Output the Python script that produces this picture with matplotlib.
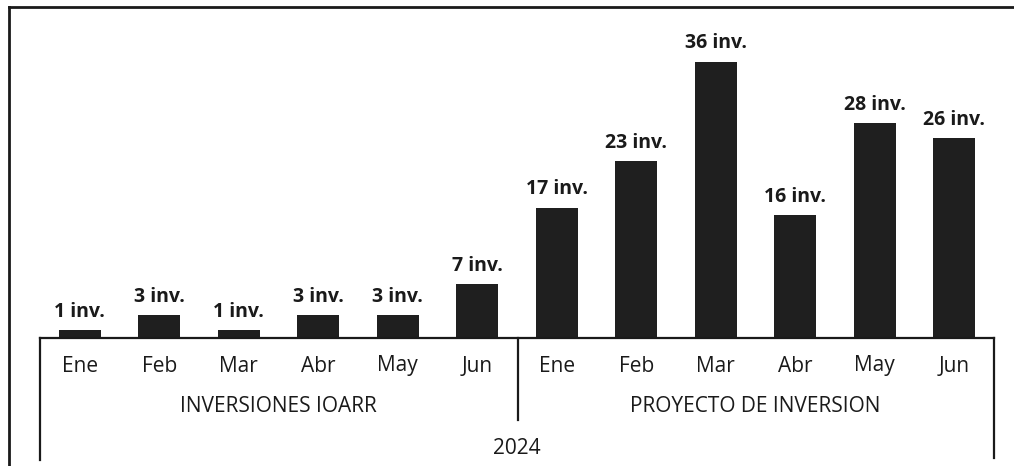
import matplotlib
matplotlib.use("Agg")
import matplotlib.pyplot as plt
from matplotlib.lines import Line2D

MONTHS = ["Ene", "Feb", "Mar", "Abr", "May", "Jun"]
GROUPS = ["INVERSIONES IOARR", "PROYECTO DE INVERSION"]
YEAR = "2024"
IOARR_VALUES = [1, 3, 1, 3, 3, 7]
PROYECTO_VALUES = [17, 23, 36, 16, 28, 26]

W, H = 1014, 466
plt.rcParams["font.family"] = ["Open Sans", "DejaVu Sans"]

fig = plt.figure(figsize=(W / 100, H / 100), dpi=100)
fig.patch.set_facecolor("white")


def px(x, y):
    return x / W, 1 - y / H


x0, x1, base_y, top_y = 40, 994, 338, 8
l, b = px(x0, base_y)
r, t = px(x1, top_y)
ax = fig.add_axes([l, b, r - l, t - b])

values = IOARR_VALUES + PROYECTO_VALUES
labels = MONTHS + MONTHS
xs = list(range(len(values)))
ax.bar(xs, values, width=0.53, color="#1f1f1f")
ax.set_xlim(-0.5, len(values) - 0.5)
ax.set_ylim(0, 43.0)
for s in ax.spines.values():
    s.set_visible(False)
ax.set_xticks([])
ax.set_yticks([])

for x, v in zip(xs, values):
    ax.annotate(f"{v} inv.", (x, v), xytext=(0, 6), textcoords="offset points",
                ha="center", va="bottom", fontsize=14, fontweight="bold",
                color="#1a1a1a")

# month labels
for x, lab in zip(xs, labels):
    ax.annotate(lab, (x, 0), xytext=(0, -28), textcoords="offset pixels",
                ha="center", va="center", fontsize=15, color="#1a1a1a")

# group labels
for gi, g in enumerate(GROUPS):
    ax.annotate(g, (gi * 6 + 2.5, 0), xytext=(0, -68), textcoords="offset pixels",
                ha="center", va="center", fontsize=15, color="#1a1a1a")
ax.annotate(YEAR, (5.5, 0), xytext=(0, -110), textcoords="offset pixels",
            ha="center", va="center", fontsize=15, color="#1a1a1a")


def line(xa, ya, xb, yb, lw=1.6):
    p0 = px(xa, ya)
    p1 = px(xb, yb)
    fig.add_artist(Line2D([p0[0], p1[0]], [p0[1], p1[1]], transform=fig.transFigure,
                          color="#1a1a1a", lw=lw))


# outer frame
line(9, 7, W, 7, lw=2.0)
line(9, 7, 9, H, lw=2.0)
# category axis box
line(x0, base_y, x1, base_y)
line(x0, base_y, x0, 460)
line(x1, base_y, x1, 458)
line(518, base_y, 518, 420)

fig.savefig("out.png", dpi=100, facecolor="white")
